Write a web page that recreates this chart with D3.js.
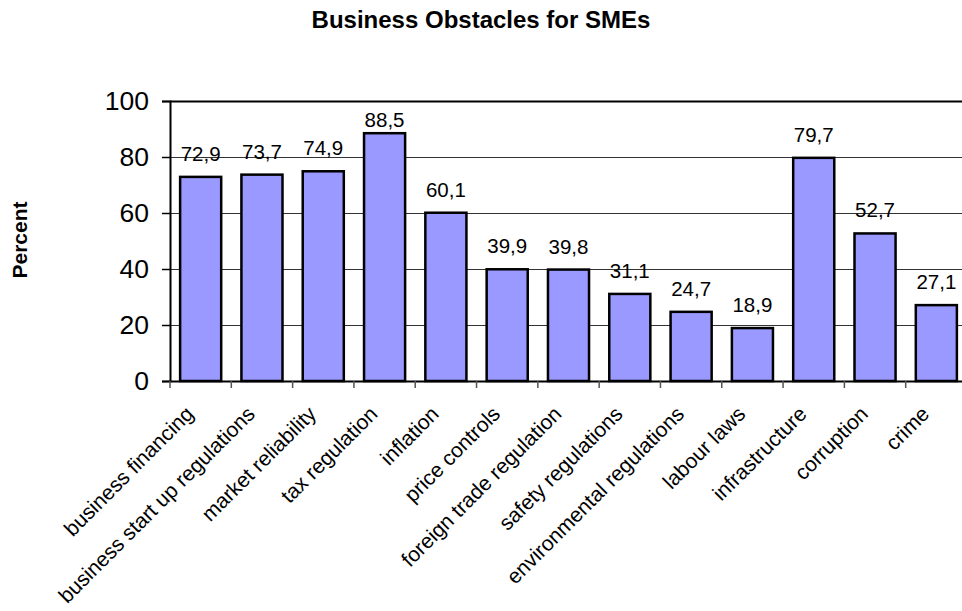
<!DOCTYPE html>
<html><head><meta charset="utf-8">
<script src="https://cdn.jsdelivr.net/npm/d3@7"></script>
<style>body{margin:0;background:#fff}svg{display:block}</style>
</head><body>
<script>
const categories = ["business financing","business start up regulations","market reliability","tax regulation","inflation","price controls","foreign trade regulation","safety regulations","environmental regulations","labour laws","infrastructure","corruption","crime"];
const values = [72.9,73.7,74.9,88.5,60.1,39.9,39.8,31.1,24.7,18.9,79.7,52.7,27.1];
const yTicks = [0,20,40,60,80,100];
const title = "Business Obstacles for SMEs";
const yTitle = "Percent";

const W = 962, H = 611;
const pLeft = 170, pRight = 967, pTop = 101, pBottom = 381;
const svg = d3.select("body").append("svg").attr("width", W).attr("height", H);
const font = "'Liberation Sans', Arial, sans-serif";

const x = d3.scaleBand().domain(categories).range([pLeft, pRight]).paddingInner(0.33).paddingOuter(0.165);
const y = d3.scaleLinear().domain([0, 100]).range([pBottom, pTop]);

// gridlines
svg.append("g").selectAll("line").data(yTicks.filter(t => t > 0)).join("line")
  .attr("x1", pLeft).attr("x2", pRight)
  .attr("y1", d => Math.round(y(d)) + 0.5).attr("y2", d => Math.round(y(d)) + 0.5)
  .attr("stroke", d => d === 100 ? "#000" : "#333")
  .attr("stroke-width", d => d === 100 ? 2 : 1);

// bars
svg.append("g").selectAll("rect").data(values).join("rect")
  .attr("x", (d, i) => x(categories[i]))
  .attr("y", d => y(d))
  .attr("width", x.bandwidth())
  .attr("height", d => y(0) - y(d))
  .attr("fill", "#9999FF").attr("stroke", "#000").attr("stroke-width", 2.5);

// data labels (kept inside the plot area)
svg.append("g").selectAll("text").data(values).join("text")
  .attr("x", (d, i) => x(categories[i]) + x.bandwidth() / 2)
  .attr("y", d => Math.max(y(d) - 16, pTop + 26))
  .attr("text-anchor", "middle")
  .attr("font-family", font).attr("font-size", 20.5)
  .text(d => d.toFixed(1).replace(".", ","));

// y axis
const yAxis = d3.axisLeft(y).tickValues(yTicks).tickSize(8).tickPadding(13).tickFormat(d => d);
const gy = svg.append("g").attr("transform", `translate(${pLeft},0)`).call(yAxis);
gy.select(".domain").attr("stroke", "#000").attr("stroke-width", 2);
gy.selectAll(".tick line").attr("stroke", "#000").attr("stroke-width", 1.5);
gy.selectAll("text").attr("font-family", font).attr("font-size", 26.5).attr("fill", "#000");

// x axis
const step = x.step();
const xAxis = d3.axisBottom(x).tickSize(0).tickFormat("");
const gx = svg.append("g").attr("transform", `translate(0,${pBottom})`).call(xAxis);
gx.select(".domain").attr("stroke", "#000").attr("stroke-width", 2);
gx.selectAll(".tick").remove();
gx.selectAll("line.bt").data(d3.range(categories.length + 1)).join("line").attr("class", "bt")
  .attr("x1", i => pLeft + i * step).attr("x2", i => pLeft + i * step)
  .attr("y1", 0).attr("y2", 7).attr("stroke", "#555").attr("stroke-width", 1.5);

// category labels
svg.append("g").selectAll("text").data(categories).join("text")
  .attr("transform", d => `translate(${x(d) + x.bandwidth() / 2 - 11},410) rotate(-45)`)
  .attr("text-anchor", "end").attr("dy", "0.35em")
  .attr("font-family", font).attr("font-size", 21)
  .text(d => d);

// title
svg.append("text").attr("x", W / 2).attr("y", 28).attr("text-anchor", "middle")
  .attr("font-family", font).attr("font-size", 24).attr("font-weight", "bold").text(title);

svg.append("text").attr("transform", "translate(27,240) rotate(-90)").attr("text-anchor", "middle")
  .attr("font-family", font).attr("font-size", 21).attr("font-weight", "bold").text(yTitle);
</script>
</body></html>
